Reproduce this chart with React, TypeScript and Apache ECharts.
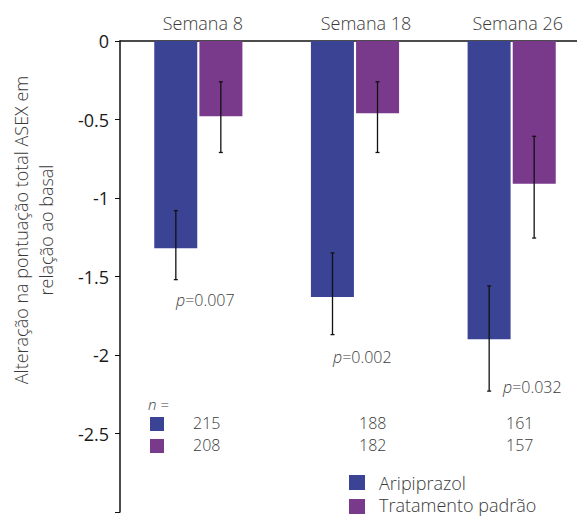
import React, { useEffect, useRef } from "react";
import * as echarts from "echarts";

const categories = ["Semana 8", "Semana 18", "Semana 26"];
const seriesNames = ["Aripiprazol", "Tratamento padrão"];
const aripiprazol = [-1.32, -1.63, -1.9];
const tratamento = [-0.48, -0.46, -0.91];
const aripErrLow = [-1.52, -1.87, -2.23];
const aripErrHigh = [-1.08, -1.35, -1.56];
const tratErrLow = [-0.71, -0.71, -1.255];
const tratErrHigh = [-0.26, -0.26, -0.607];
const pValues = ["0.007", "0.002", "0.032"];
const nArip = [215, 188, 161];
const nTrat = [208, 182, 157];
const yTicks = [0, -0.5, -1, -1.5, -2, -2.5];
const yTitle = ["Alteração na pontuação total ASEX em", "relação ao basal"];

const BLUE = "#3b4494";
const PURPLE = "#7a3a8c";
const FONT = "'Open Sans', 'Noto Sans', sans-serif";
const TXT = "#3a3a3a";

export default function App() {
  const ref = useRef<HTMLDivElement>(null);
  useEffect(() => {
    if (!ref.current) return;
    const chart = echarts.init(ref.current, undefined, { renderer: "svg" });

    const errSeries = (low: number[], high: number[], offset: number) => ({
      type: "custom",
      coordinateSystem: "cartesian2d",
      silent: true,
      z: 10,
      data: low.map((l, i) => [i, l, high[i]]),
      encode: { x: 0, y: [1, 2] },
      renderItem: (params: any, api: any) => {
        const cat = api.value(0);
        const top = api.coord([cat, api.value(2)]);
        const bot = api.coord([cat, api.value(1)]);
        const x = top[0] + offset;
        const cap = 2;
        const st = { stroke: "#111", lineWidth: 1.3 };
        return {
          type: "group",
          children: [
            { type: "line", shape: { x1: x, y1: top[1], x2: x, y2: bot[1] }, style: st },
            { type: "line", shape: { x1: x - cap, y1: top[1], x2: x + cap, y2: top[1] }, style: st },
            { type: "line", shape: { x1: x - cap, y1: bot[1], x2: x + cap, y2: bot[1] }, style: st },
          ],
        };
      },
    });

    const pPos = [
      { left: 176, top: 292 },
      { left: 333, top: 349 },
      { left: 503, top: 379 },
    ];
    const nCols = [193, 359, 506];
    const labelShift = [9, 22, 12];
    const txt = (s: any) => ({ fontFamily: FONT, fontWeight: 300, fill: TXT, ...s });

    const graphic: any[] = [
      {
        type: "text",
        x: 33,
        y: 230,
        rotation: Math.PI / 2,
        style: txt({
          text: yTitle.join("\n"),
          x: 0,
          y: 0,
          align: "center",
          verticalAlign: "middle",
          fontSize: 18,
          lineHeight: 25,
        }),
      },
      ...pValues.map((p, i) => ({
        type: "text",
        left: pPos[i].left,
        top: pPos[i].top,
        style: txt({
          text: "{i|p}=" + p,
          fontSize: 16,
          rich: { i: { fontStyle: "italic", fontSize: 16, fontFamily: FONT, fontWeight: 300, fill: TXT } },
        }),
      })),
      {
        type: "text",
        left: 148,
        top: 396,
        style: txt({ text: "n =", fontSize: 15, fontStyle: "italic" }),
      },
      { type: "rect", shape: { x: 150, y: 417, width: 14, height: 14 }, style: { fill: BLUE } },
      { type: "rect", shape: { x: 150, y: 439, width: 14, height: 14 }, style: { fill: PURPLE } },
      ...nArip.map((n, i) => ({
        type: "text",
        left: nCols[i],
        top: 415,
        style: txt({ text: String(n), fontSize: 16 }),
      })),
      ...nTrat.map((n, i) => ({
        type: "text",
        left: nCols[i],
        top: 437,
        style: txt({ text: String(n), fontSize: 16 }),
      })),
      { type: "rect", shape: { x: 349, y: 475, width: 16, height: 15 }, style: { fill: BLUE } },
      { type: "rect", shape: { x: 349, y: 499, width: 16, height: 15 }, style: { fill: PURPLE } },
      {
        type: "text",
        x: 379,
        y: 483,
        style: txt({ text: seriesNames[0], fontSize: 18, verticalAlign: "middle" }),
      },
      {
        type: "text",
        x: 379,
        y: 505,
        style: txt({ text: seriesNames[1], fontSize: 18, verticalAlign: "middle" }),
      },
    ];

    const rich: any = {};
    labelShift.forEach((s, i) => {
      rich["c" + i] = {
        fontSize: 18,
        color: TXT,
        fontFamily: FONT,
        fontWeight: 300,
        padding: [0, 0, 0, s],
      };
    });

    chart.setOption({
      animation: false,
      textStyle: { fontFamily: FONT },
      grid: { left: 120, top: 41, width: 470, height: 471, containLabel: false },
      xAxis: {
        type: "category",
        position: "top",
        data: categories,
        axisLine: { lineStyle: { color: "#111", width: 1.5 } },
        axisTick: { show: false },
        axisLabel: {
          interval: 0,
          hideOverlap: false,
          fontSize: 18,
          color: TXT,
          margin: 9,
          fontFamily: FONT,
          fontWeight: 300,
          formatter: (v: string, idx: number) => `{c${idx}|${v}}`,
          rich,
        },
      },
      yAxis: {
        type: "value",
        min: -3,
        max: 0,
        interval: 0.5,
        splitLine: { show: false },
        axisLine: { show: true, lineStyle: { color: "#111", width: 1.5 } },
        axisTick: { show: true, length: 5, lineStyle: { color: "#111" } },
        axisLabel: {
          fontSize: 18,
          color: "#1a1a1a",
          margin: 11,
          fontFamily: FONT,
          formatter: (v: number) => (yTicks.includes(v) ? String(v) : ""),
        },
      },
      series: [
        {
          name: seriesNames[0],
          type: "bar",
          data: aripiprazol,
          barWidth: 43,
          barGap: "5%",
          itemStyle: { color: BLUE },
        },
        {
          name: seriesNames[1],
          type: "bar",
          data: tratamento,
          barWidth: 43,
          barGap: "5%",
          itemStyle: { color: PURPLE },
        },
        errSeries(aripErrLow, aripErrHigh, -22.5),
        errSeries(tratErrLow, tratErrHigh, 22.5),
      ],
      graphic,
    });
    return () => chart.dispose();
  }, []);
  return (
    <div
      style={{ position: "fixed", left: 0, top: 0, width: 577, height: 516, overflow: "hidden", background: "#fff" }}
    >
      <div ref={ref} style={{ width: 600, height: 516 }} />
    </div>
  );
}
